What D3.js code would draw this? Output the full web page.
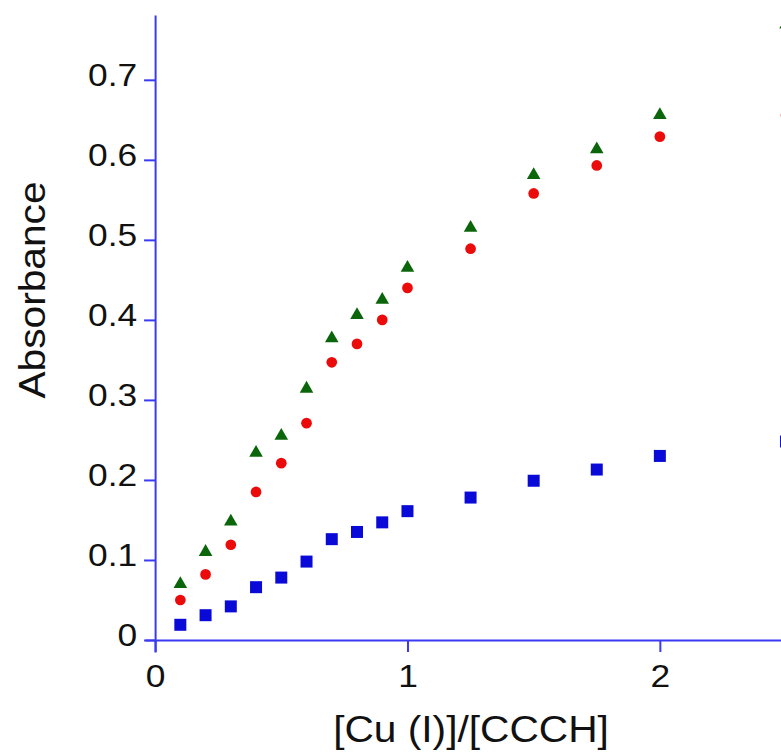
<!DOCTYPE html>
<html>
<head>
<meta charset="utf-8">
<script src="https://cdn.jsdelivr.net/npm/d3@7"></script>
<style>
  html, body { margin: 0; padding: 0; background: #fff; }
  svg { display: block; }
  text { font-family: "Liberation Sans", Arial, Helvetica, sans-serif; fill: #111; }
</style>
</head>
<body>
<svg id="chart" width="781" height="752"></svg>
<script>
// Cu(I) titration: absorbance vs. [Cu(I)]/[CCCH] ratio at three wavelengths
const ratio = [0.1, 0.2, 0.3, 0.4, 0.5, 0.6, 0.7, 0.8, 0.9, 1.0, 1.25, 1.5, 1.75, 2.0, 2.5];
const absTriangle = [0.070, 0.110, 0.148, 0.234, 0.255, 0.314, 0.377, 0.406, 0.425, 0.465, 0.515, 0.581, 0.613, 0.656, 0.769];
const absCircle   = [0.050, 0.082, 0.119, 0.185, 0.221, 0.271, 0.347, 0.370, 0.400, 0.440, 0.489, 0.558, 0.593, 0.629, 0.656];
const absSquare   = [0.019, 0.031, 0.042, 0.066, 0.078, 0.098, 0.126, 0.135, 0.147, 0.161, 0.178, 0.199, 0.213, 0.230, 0.248];

const xTicks = [0, 1, 2];
const yTicks = [0, 0.1, 0.2, 0.3, 0.4, 0.5, 0.6, 0.7];
const xTitle = "[Cu (I)]/[CCCH]";
const yTitle = "Absorbance";

const axisColor = "#3a3af2";
const svg = d3.select("#chart");

const x = d3.scaleLinear().domain([-0.04, 2.48]).range([145, 781]);
const y = d3.scaleLinear().domain([-0.015, 0.781]).range([652, 15]);

const x0 = x(0), y0 = y(0);

// x axis
const gx = svg.append("g").attr("transform", `translate(0,${y0})`)
  .call(d3.axisBottom(x).tickValues(xTicks).tickFormat(d3.format("d")).tickSize(12).tickSizeOuter(0));
// y axis
const gy = svg.append("g").attr("transform", `translate(${x0},0)`)
  .call(d3.axisLeft(y).tickValues(yTicks).tickFormat(d => d === 0 ? "0" : d3.format(".1f")(d)).tickSize(11).tickSizeOuter(0));

[gx, gy].forEach(g => {
  g.select(".domain").attr("stroke", axisColor).attr("stroke-width", 2);
  g.selectAll(".tick line").attr("stroke", axisColor).attr("stroke-width", 2);
  g.selectAll(".tick text").attr("fill", "#111").style("font-size", "31px");
});
gx.selectAll(".tick text").attr("y", 0).attr("dy", 0)
  .attr("transform", "translate(0,47) scale(1.14,1)");
gy.selectAll(".tick text").attr("x", 0).attr("dy", 0)
  .attr("transform", "translate(-18,6) scale(1.14,1)");

// markers
const series = [
  { values: absSquare,   color: "#0a0ad8", shape: d3.symbolSquare,   size: 144 },
  { values: absCircle,   color: "#ec0b0b", shape: d3.symbolCircle,   size: 90 },
  { values: absTriangle, color: "#0b660b", shape: d3.symbolTriangle, size: 80 }
];
series.forEach(s => {
  svg.append("g").selectAll("path")
    .data(ratio.map((r, i) => [r, s.values[i]]))
    .join("path")
    .attr("d", d3.symbol().type(s.shape).size(s.size))
    .attr("transform", d => `translate(${x(d[0])},${y(d[1])})`)
    .attr("fill", s.color);
});

// axis titles
svg.append("text")
  .attr("transform", "translate(471,742) scale(1.1,1)")
  .attr("text-anchor", "middle")
  .style("font-size", "37px")
  .text(xTitle);
svg.append("text")
  .attr("transform", "translate(45,290) rotate(-90) scale(1.1,1)")
  .attr("text-anchor", "middle")
  .style("font-size", "37px")
  .text(yTitle);
</script>
</body>
</html>
